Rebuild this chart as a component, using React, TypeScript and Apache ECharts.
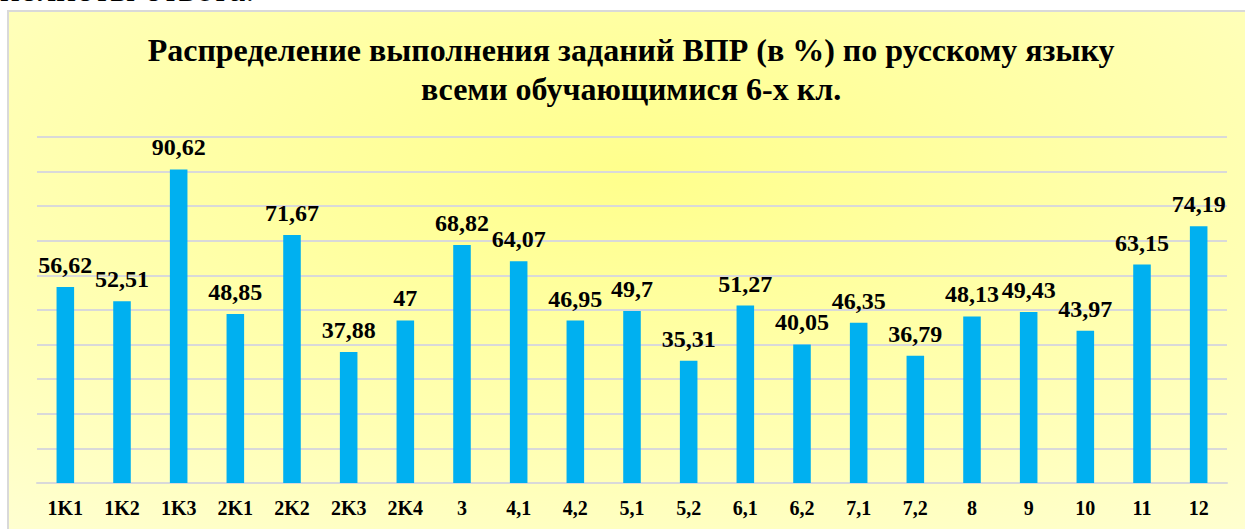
import React, { useEffect, useRef } from "react";
import * as echarts from "echarts";

const categories = ["1K1", "1K2", "1K3", "2K1", "2K2", "2K3", "2K4", "3", "4,1", "4,2", "5,1", "5,2", "6,1", "6,2", "7,1", "7,2", "8", "9", "10", "11", "12"];
const values = [56.62, 52.51, 90.62, 48.85, 71.67, 37.88, 47, 68.82, 64.07, 46.95, 49.7, 35.31, 51.27, 40.05, 46.35, 36.79, 48.13, 49.43, 43.97, 63.15, 74.19];
const titleLines = ["Распределение выполнения заданий ВПР (в %) по русскому языку", "всеми обучающимися 6-х кл."];
const pageText = "полноты ответа.";

const FONT = "Liberation Serif";

export default function App() {
  const ref = useRef<HTMLDivElement>(null);
  useEffect(() => {
    const chart = echarts.init(ref.current!, null, { renderer: "svg" });
    chart.setOption({
      animation: false,
      backgroundColor: "#ffffff",
      graphic: [
        {
          type: "rect",
          z: -10,
          shape: { x: 8, y: 11, width: 1250, height: 540 },
          style: {
            fill: new echarts.graphic.RadialGradient(0.5, 0.3, 1.15, [
              { offset: 0, color: "#FFFF8C" },
              { offset: 0.45, color: "#FFFFB4" },
              { offset: 1, color: "#FFFFEE" },
            ]),
            stroke: "#D9D9D9",
            lineWidth: 2,
          },
        },
        {
          type: "text",
          x: 0,
          y: 7,
          style: { text: pageText, fontFamily: FONT, fontSize: 37, fill: "#000", verticalAlign: "bottom" },
        },
        {
          type: "text",
          x: 631,
          y: 50,
          style: { text: titleLines[0], fontFamily: FONT, fontWeight: "bold", fontSize: 32, fill: "#000", align: "center", verticalAlign: "middle" },
        },
        {
          type: "text",
          x: 631,
          y: 89,
          style: { text: titleLines[1], fontFamily: FONT, fontWeight: "bold", fontSize: 32, fill: "#000", align: "center", verticalAlign: "middle" },
        },
      ],
      grid: { left: 37, right: 18, top: 137, bottom: 46, containLabel: false },
      xAxis: {
        type: "category",
        data: categories,
        axisLine: { lineStyle: { color: "#D9D9D9", width: 2 } },
        axisTick: { show: false },
        axisLabel: { fontFamily: FONT, fontWeight: "bold", fontSize: 20, color: "#000", margin: 15, interval: 0 },
      },
      yAxis: {
        type: "value",
        min: 0,
        max: 100,
        interval: 10,
        axisLabel: { show: false },
        axisLine: { show: false },
        axisTick: { show: false },
        splitLine: { lineStyle: { color: "#D9D9D9", width: 2 } },
      },
      series: [
        {
          type: "bar",
          data: values,
          barWidth: "31%",
          itemStyle: { color: "#00B0F0" },
          label: {
            show: true,
            position: "top",
            distance: 10,
            fontFamily: FONT,
            fontWeight: "bold",
            fontSize: 24,
            color: "#000",
            formatter: (p: any) => String(p.value).replace(".", ","),
          },
        },
      ],
    });
    return () => chart.dispose();
  }, []);
  return <div ref={ref} style={{ position: "absolute", left: 0, top: 0, width: 1245, height: 529 }} />;
}
